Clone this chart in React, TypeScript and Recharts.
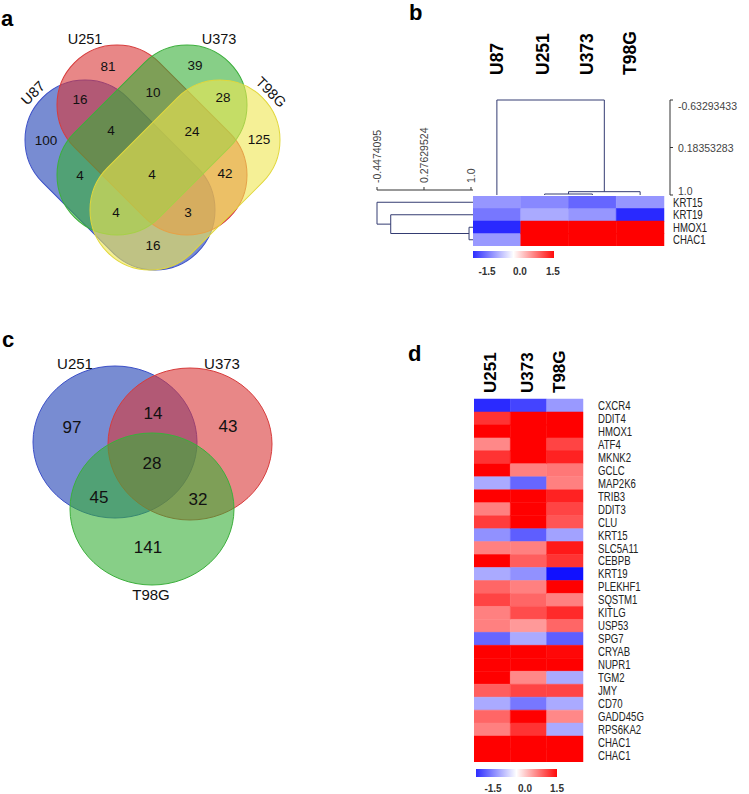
import React from 'react';
import { ScatterChart, Scatter, XAxis, YAxis, LineChart, Line, BarChart, Bar, Cell } from 'recharts';

const FONT = '"Liberation Sans", Arial, Helvetica, sans-serif';
const DENDRO = '#343c72';

// ---------- Panel a : 4-set Venn ----------
const venn4Names = ['U87', 'U251', 'U373', 'T98G'];
const venn4Counts = [100, 81, 39, 125, 16, 10, 28, 4, 24, 4, 4, 42, 4, 3, 16];
// layout (diagram units)
const venn4LabelX = [46, 108, 195, 259, 80, 153, 223, 111, 192, 80, 152, 225, 116, 188, 153];
const venn4LabelY = [140, 66, 65, 139, 99, 92, 97, 130, 131, 175, 174, 173, 212, 212, 245];
const venn4CX = [120, 152, 152, 185];
const venn4CY = [175, 140, 140, 175];
const venn4Rot = [45, 45, -45, -45];
const venn4NameX = [33, 85, 219, 271];
const venn4NameY = [93, 39, 39, 92];
const venn4NameRot = [-45, 0, 0, 45];
const venn4Fill = ['rgb(30,63,180)', 'rgb(217,55,55)', 'rgb(55,175,55)', 'rgb(238,230,80)'];
const venn4Stroke = ['rgb(60,80,200)', 'rgb(215,60,60)', 'rgb(60,175,60)', 'rgb(225,215,60)'];

// ---------- Panel c : 3-set Venn ----------
const venn3Names = ['U251', 'U373', 'T98G'];
const venn3Counts = [97, 43, 141, 14, 45, 32, 28];
const venn3LabelX = [72, 228, 148, 153, 99, 198, 152];
const venn3LabelY = [427, 426, 547, 413, 497, 499, 463];
const venn3CX = [115, 190, 152];
const venn3CY = [442, 444, 509];
const venn3NameX = [75, 222, 151];
const venn3NameY = [363, 363, 594];
const venn3Fill = ['rgb(30,63,180)', 'rgb(217,55,55)', 'rgb(55,175,55)'];
const venn3Stroke = ['rgb(60,80,200)', 'rgb(215,60,60)', 'rgb(60,175,60)'];

// ---------- Panel b : heatmap with dendrograms ----------
const bCols = ['U87', 'U251', 'U373', 'T98G'];
const bColLabelDx = [0, -2, -5, -10];
const bGenes = ['KRT15', 'KRT19', 'HMOX1', 'CHAC1'];
const bU87 = [-0.62, -0.8, -1.26, -0.6];
const bU251 = [-0.7, -0.5, 1.8, 1.8];
const bU373 = [-0.9, -0.62, 1.8, 1.8];
const bT98G = [-0.62, -1.26, 1.8, 1.8];
const colMergeA = [1, 4, 0];
const colMergeB = [2, 3, 5];
const colMergeH = [0.983, 0.943, -0.63293433];
const colScaleTicks = [-0.63293433, 0.18353283, 1.0];
const colScaleLabels = ['-0.63293433', '0.18353283', '1.0'];
const rowMergeA = [2, 1, 0];
const rowMergeB = [3, 4, 5];
const rowMergeH = [0.97, -0.236, -0.4474095];
const rowScaleTicks = [-0.4474095, 0.27629524, 1.0];
const rowScaleLabels = ['-0.4474095', '0.27629524', '1.0'];

// ---------- Panel d : heatmap ----------
const dCols = ['U251', 'U373', 'T98G'];
const dColLabelDx = [-2, -1, -5];
const dGenes = ['CXCR4', 'DDIT4', 'HMOX1', 'ATF4', 'MKNK2', 'GCLC', 'MAP2K6', 'TRIB3', 'DDIT3', 'CLU', 'KRT15', 'SLC5A11', 'CEBPB', 'KRT19', 'PLEKHF1', 'SQSTM1', 'KITLG', 'USP53', 'SPG7', 'CRYAB', 'NUPR1', 'TGM2', 'JMY', 'CD70', 'GADD45G', 'RPS6KA2', 'CHAC1', 'CHAC1'];
const dU251 = [-1.25, 1.2, 1.8, 0.7, 1.2, 1.8, -0.5, 1.8, 0.75, 1.15, -0.65, 0.75, 1.6, -0.5, 0.9, 1.1, 0.75, 0.75, -0.9, 1.8, 1.8, 1.8, 0.95, -0.5, 0.9, 0.75, 1.8, 1.8];
const dU373 = [-1.1, 1.8, 1.8, 1.8, 1.8, 0.75, -0.9, 1.8, 1.8, 1.8, -0.95, 0.75, 0.95, -0.65, 0.75, 0.9, 1.05, 0.6, -0.5, 1.8, 1.8, 0.7, 1.1, -0.8, 1.8, 1.2, 1.8, 1.8];
const dT98G = [-0.6, 1.8, 1.8, 1.1, 1.3, 0.8, 0.75, 1.3, 1.1, 1.0, -0.55, 1.35, 1.2, -1.4, 1.6, 0.75, 1.25, 0.9, -0.95, 1.45, 1.8, -0.5, 1.1, -0.5, 0.7, -0.5, 1.8, 1.8];

const scaleTicks = [-1.5, 0, 1.5];

function heatColor(v: number) {
  const t = Math.min(Math.abs(v) / 1.5, 1);
  const c = Math.round(255 * (1 - t));
  return v >= 0 ? `rgb(255,${c},${c})` : `rgb(${c},${c},255)`;
}

function dendroSegments(n: number, A: number[], B: number[], H: number[], leafLevel: number) {
  const pos: number[] = [];
  const lvl: number[] = [];
  for (let i = 0; i < n; i++) { pos[i] = i + 0.5; lvl[i] = leafLevel; }
  const segs: { p: number; l: number }[][] = [];
  A.forEach((a, k) => {
    const b = B[k];
    const h = H[k];
    segs.push([{ p: pos[a], l: lvl[a] }, { p: pos[a], l: h }, { p: pos[b], l: h }, { p: pos[b], l: lvl[b] }]);
    pos[n + k] = (pos[a] + pos[b]) / 2;
    lvl[n + k] = h;
  });
  return segs;
}

const StadiumShape = (props: any) => {
  const { cx, cy, payload } = props;
  const L = 219, W = 120;
  return (
    <rect x={cx - L / 2} y={cy - W / 2} width={L} height={W} rx={W / 2} ry={W / 2}
      transform={`rotate(${payload.rot} ${cx} ${cy})`} fill={payload.fill} fillOpacity={0.6}
      stroke={payload.stroke} strokeWidth={1} />
  );
};

const EllipseShape = (props: any) => {
  const { cx, cy, payload } = props;
  return <ellipse cx={cx} cy={cy} rx={82} ry={76} fill={payload.fill} fillOpacity={0.6} stroke={payload.stroke} strokeWidth={1} />;
};

const makeTextShape = (size: number) => (props: any) => {
  const { cx, cy, payload } = props;
  return (
    <text x={cx} y={cy} textAnchor="middle" dominantBaseline="central" fontSize={size} fontFamily={FONT} fill="#111"
      transform={payload.rot ? `rotate(${payload.rot} ${cx} ${cy})` : undefined}>{payload.label}</text>
  );
};
const NumText4 = makeTextShape(13.5);
const NameText4 = makeTextShape(14.5);
const NumText3 = makeTextShape(17);
const NameText3 = makeTextShape(15);

function VennA() {
  const sets = venn4Names.map((n, i) => ({ x: venn4CX[i], y: venn4CY[i], rot: venn4Rot[i], fill: venn4Fill[i], stroke: venn4Stroke[i] }));
  const nums = venn4Counts.map((c, i) => ({ x: venn4LabelX[i], y: venn4LabelY[i], label: String(c) }));
  const names = venn4Names.map((n, i) => ({ x: venn4NameX[i], y: venn4NameY[i], rot: venn4NameRot[i], label: n }));
  return (
    <ScatterChart width={300} height={290} margin={{ top: 0, right: 0, bottom: 0, left: 0 }}>
      <XAxis type="number" dataKey="x" domain={[0, 300]} hide />
      <YAxis type="number" dataKey="y" domain={[0, 290]} reversed hide />
      <Scatter data={sets} shape={StadiumShape} isAnimationActive={false} />
      <Scatter data={nums} shape={NumText4} isAnimationActive={false} />
      <Scatter data={names} shape={NameText4} isAnimationActive={false} />
    </ScatterChart>
  );
}

function VennC() {
  const sets = venn3Names.map((n, i) => ({ x: venn3CX[i], y: venn3CY[i], fill: venn3Fill[i], stroke: venn3Stroke[i] }));
  const nums = venn3Counts.map((c, i) => ({ x: venn3LabelX[i], y: venn3LabelY[i], label: String(c) }));
  const names = venn3Names.map((n, i) => ({ x: venn3NameX[i], y: venn3NameY[i], label: n }));
  return (
    <ScatterChart width={300} height={280} margin={{ top: 0, right: 0, bottom: 0, left: 0 }}>
      <XAxis type="number" dataKey="x" domain={[0, 300]} hide />
      <YAxis type="number" dataKey="y" domain={[330, 610]} reversed hide />
      <Scatter data={sets} shape={EllipseShape} isAnimationActive={false} />
      <Scatter data={nums} shape={NumText3} isAnimationActive={false} />
      <Scatter data={names} shape={NameText3} isAnimationActive={false} />
    </ScatterChart>
  );
}

const makeColTick = (names: string[], dxs: number[], size: number, lift: number) => (props: any) => {
  const { x, y, payload } = props;
  const i = Math.round(payload.value - 0.5);
  return (
    <text transform={`translate(${x + dxs[i]},${y - lift}) rotate(-90)`} textAnchor="start" dominantBaseline="central"
      fontSize={size} fontWeight="bold" fontFamily={FONT} fill="#000">{names[i]}</text>
  );
};
const ColTickB = makeColTick(bCols, bColLabelDx, 17.5, 25);
const ColTickD = makeColTick(dCols, dColLabelDx, 17, 6);

const ColScaleTick = (props: any) => {
  const { x, y, index } = props;
  const off = [6, 0, -4][index] || 0;
  return <text x={x} y={y + off} textAnchor="start" dominantBaseline="central" fontSize={10.5} fontFamily={FONT} fill="#444">{colScaleLabels[index]}</text>;
};
const RowScaleTick = (props: any) => {
  const { x, y, index } = props;
  return (
    <text transform={`translate(${x},${y - 2}) rotate(-90)`} textAnchor="start" dominantBaseline="central"
      fontSize={10.5} fontFamily={FONT} fill="#444">{rowScaleLabels[index]}</text>
  );
};

const makeGeneTick = (genes: string[]) => (props: any) => {
  const { x, y, payload } = props;
  return (
    <text transform={`translate(${x},${y}) scale(0.8,1)`} textAnchor="start" dominantBaseline="central"
      fontSize={12} fontFamily={FONT} fill="#222">{genes[Number(payload.value)]}</text>
  );
};

function ColDendro() {
  const segs = dendroSegments(bCols.length, colMergeA, colMergeB, colMergeH, 1.0).map((s) => s.map((q) => ({ x: q.p, y: q.l })));
  return (
    <LineChart width={276} height={181} margin={{ top: 0, right: 0, bottom: 6, left: 0 }}>
      <XAxis type="number" dataKey="x" orientation="top" height={80} domain={[0, 4.1256]} ticks={[0.5, 1.5, 2.5, 3.5]}
        tick={ColTickB} axisLine={false} tickLine={false} tickSize={0} tickMargin={0} interval={0} />
      <YAxis type="number" dataKey="y" orientation="right" width={79} domain={[-0.63293433, 1.0]} reversed
        ticks={colScaleTicks} tickSize={3} tickMargin={5} interval={0} tick={ColScaleTick}
        axisLine={{ stroke: '#333' }} tickLine={{ stroke: '#333' }} />
      {segs.map((s, i) => (
        <Line key={i} data={s} dataKey="y" type="linear" stroke={DENDRO} strokeWidth={1} dot={false} isAnimationActive={false} />
      ))}
    </LineChart>
  );
}

function RowDendro() {
  const segs = dendroSegments(bGenes.length, rowMergeA, rowMergeB, rowMergeH, 1.031).map((s) => s.map((q) => ({ x: q.l, y: q.p })));
  return (
    <LineChart width={109} height={136} margin={{ top: 0, right: 6, bottom: 0, left: 7 }}>
      <XAxis type="number" dataKey="x" orientation="top" height={80} domain={[-0.4474095, 1.031]} ticks={rowScaleTicks}
        tickSize={3} tickMargin={2} interval={0} tick={RowScaleTick} axisLine={{ stroke: '#333' }} tickLine={{ stroke: '#333' }} />
      <YAxis type="number" dataKey="y" domain={[-0.48, 4]} reversed hide />
      {segs.map((s, i) => (
        <Line key={i} data={s} dataKey="y" type="linear" stroke={DENDRO} strokeWidth={1} dot={false} isAnimationActive={false} />
      ))}
    </LineChart>
  );
}

function Heatmap(props: { genes: string[]; vals: number[][]; width: number; height: number; labelGap: number; topAxis?: React.ReactNode; ncols: number }) {
  const { genes, vals, width, height, labelGap, ncols } = props;
  const data = genes.map((g, i) => {
    const row: any = { id: i };
    vals.forEach((_, j) => { row['c' + j] = 1; });
    return row;
  });
  const GeneTick = makeGeneTick(genes);
  return (
    <BarChart layout="vertical" width={width} height={height} data={data} margin={{ top: 0, right: 0, bottom: 0, left: 0 }}
      barCategoryGap={0} barGap={0}>
      {props.topAxis ? props.topAxis : <XAxis type="number" domain={[0, ncols]} hide />}
      <YAxis type="category" dataKey="id" orientation="right" width={70} interval={0} axisLine={false} tickLine={false}
        tickSize={0} tickMargin={labelGap} tick={GeneTick} />
      {vals.map((col, j) => (
        <Bar key={j} dataKey={'c' + j} stackId="s" isAnimationActive={false}>
          {col.map((v, i) => <Cell key={i} fill={heatColor(v)} stroke={heatColor(v)} strokeWidth={0.5} />)}
        </Bar>
      ))}
    </BarChart>
  );
}

function ColorBar(props: { id: string; lo: number; hi: number; barH: number; tickMargin: number }) {
  const { id, lo, hi, barH, tickMargin } = props;
  return (
    <BarChart layout="vertical" width={106} height={barH + 20} data={[{ name: 'scale', v: [lo, hi] }]}
      margin={{ top: 0, right: 15, bottom: 0, left: 10 }} barCategoryGap={0}>
      <defs>
        <linearGradient id={id} x1="0" y1="0" x2="1" y2="0">
          <stop offset="0%" stopColor="rgb(45,45,255)" />
          <stop offset="50%" stopColor="rgb(255,255,255)" />
          <stop offset="100%" stopColor="rgb(255,10,10)" />
        </linearGradient>
      </defs>
      <XAxis type="number" domain={[lo, hi]} ticks={scaleTicks} tickFormatter={(v: any) => Number(v).toFixed(1)}
        axisLine={false} tickLine={false} tickSize={0} tickMargin={tickMargin} height={20} interval={0} allowDataOverflow
        tick={{ fontSize: 10, fontWeight: 'bold', fill: '#333', fontFamily: FONT }} />
      <YAxis type="category" dataKey="name" hide />
      <Bar dataKey="v" fill={`url(#${id})`} isAnimationActive={false} />
    </BarChart>
  );
}

const abs = (left: number, top: number): React.CSSProperties => ({ position: 'absolute', left, top });

export default function App() {
  return (
    <div style={{ position: 'absolute', left: 0, top: 0, width: 749, height: 794, overflow: 'hidden', background: '#fff', fontFamily: FONT }}>
      <div style={abs(0, 0)}><VennA /></div>
      <div style={abs(0, 330)}><VennC /></div>

      <div style={abs(473, 20)}><ColDendro /></div>
      <div style={abs(370, 110)}><RowDendro /></div>
      <div style={abs(473, 196)}>
        <Heatmap genes={bGenes} vals={[bU87, bU251, bU373, bT98G]} width={261} height={50} labelGap={9} ncols={4} />
      </div>
      <div style={abs(463, 251)}><ColorBar id="gradB" lo={-2.14} hi={1.55} barH={7} tickMargin={9.4} /></div>

      <div style={abs(474, 349)}>
        <Heatmap genes={dGenes} vals={[dU251, dU373, dT98G]} width={179} height={413} labelGap={15} ncols={3}
          topAxis={<XAxis type="number" orientation="top" height={50} domain={[0, 3]} ticks={[0.5, 1.5, 2.5]} tick={ColTickD}
            axisLine={false} tickLine={false} tickSize={0} tickMargin={0} interval={0} />} />
      </div>
      <div style={abs(466, 769)}><ColorBar id="gradD" lo={-2.3} hi={1.5} barH={8} tickMargin={7.4} /></div>

      <svg width={749} height={794} style={{ position: 'absolute', left: 0, top: 0, pointerEvents: 'none' }}>
        <text x={1} y={26} fontSize={22} fontWeight="bold" fontFamily={FONT} fill="#000">a</text>
        <text x={409} y={19.5} fontSize={22} fontWeight="bold" fontFamily={FONT} fill="#000">b</text>
        <text x={2} y={347} fontSize={22} fontWeight="bold" fontFamily={FONT} fill="#000">c</text>
        <text x={408} y={361} fontSize={22} fontWeight="bold" fontFamily={FONT} fill="#000">d</text>
      </svg>
    </div>
  );
}
